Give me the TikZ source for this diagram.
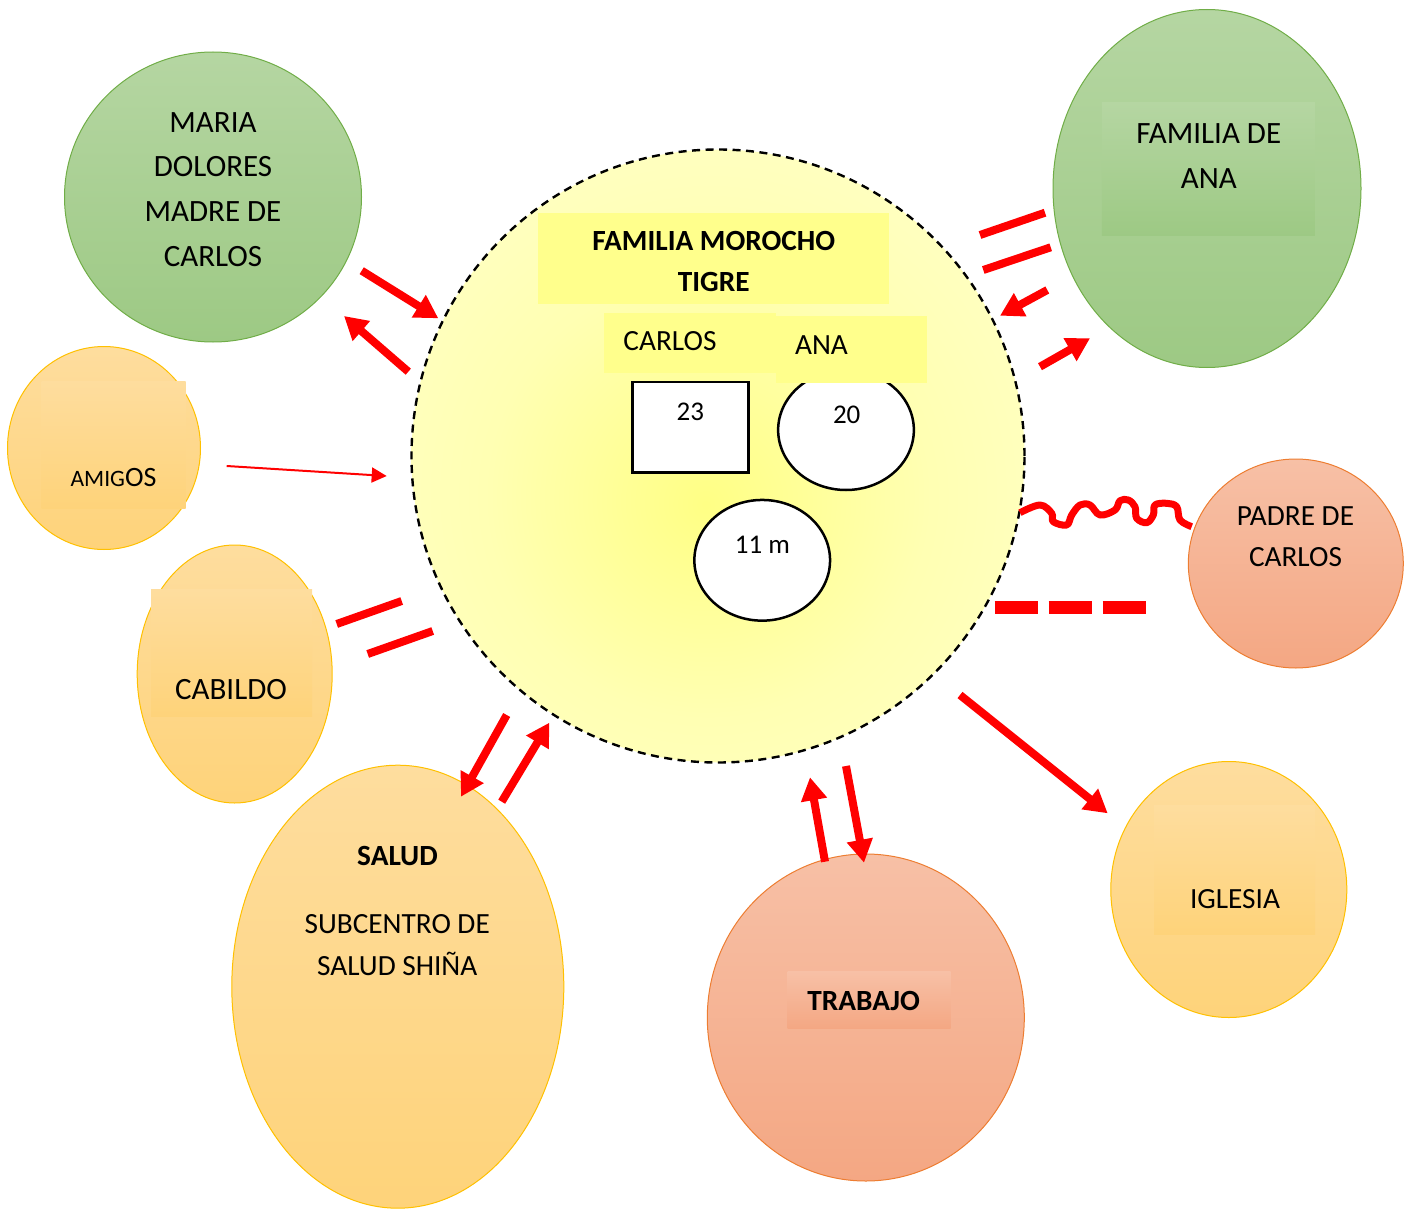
\documentclass[tikz,border=0pt]{standalone}
\usepackage{fontspec}
\setmainfont{Carlito}
\usetikzlibrary{arrows.meta,shapes.geometric}
\definecolor{grTop}{RGB}{181,214,162}
\definecolor{grBot}{RGB}{157,201,132}
\definecolor{grLine}{RGB}{112,173,71}
\definecolor{orTop}{RGB}{254,221,158}
\definecolor{orBot}{RGB}{254,211,122}
\definecolor{orLine}{RGB}{255,192,0}
\definecolor{saTop}{RGB}{247,192,166}
\definecolor{saBot}{RGB}{244,167,131}
\definecolor{saLine}{RGB}{237,125,49}
\definecolor{ylBox}{RGB}{255,255,140}
\definecolor{redA}{RGB}{255,0,0}
\pgfdeclareradialshading{famshade}{\pgfpoint{-1bp}{-4bp}}{rgb(0bp)=(1,1,0.52); rgb(18bp)=(1,1,0.70); rgb(50bp)=(1,1,0.86); rgb(100bp)=(1,1,0.86)}
\newcommand{\fsL}{\fontsize{31}{37}\selectfont}
\newcommand{\fsM}{\fontsize{29.3}{35}\selectfont}
\newcommand{\fsS}{\fontsize{27}{32}\selectfont}
\tikzset{
  ring/.style={ellipse, inner sep=0pt, line width=1pt},
  greenring/.style={ring, draw=grLine, top color=grTop, bottom color=grBot},
  orangering/.style={ring, draw=orLine, top color=orTop, bottom color=orBot},
  salmonring/.style={ring, draw=saLine, top color=saTop, bottom color=saBot},
  ibox/.style={rectangle, inner sep=0pt},
  ybox/.style={rectangle, inner sep=0pt, fill=ylBox},
  wbox/.style={inner sep=0pt, fill=white, draw=black, line width=2.5pt},
  lbl/.style={inner sep=0pt, anchor=base},
  tie/.style={draw=redA, line width=8pt},
  bigarrow/.style={draw=redA, line width=8pt, -{Triangle[length=23pt,width=25pt]}},
  thinarrow/.style={draw=redA, line width=2pt, -{Triangle[length=15pt,width=15pt]}},
}
\begin{document}
\begin{tikzpicture}[x=1pt,y=-1pt]
\path[use as bounding box] (0,0) rectangle (1413,1209);

% central family circle
\node[circle, inner sep=0pt, minimum size=613pt, shading=famshade, draw=black,
      line width=2.4pt, dash pattern=on 8pt off 5.5pt] (fam) at (718,456) {};

% surrounding systems
\node[greenring, minimum width=297pt, minimum height=290pt] (maria) at (213,197) {};
\node[greenring, minimum width=308pt, minimum height=358pt] (fana) at (1207,188.5) {};
\node[ibox, top color=grTop, bottom color=grBot, minimum width=213pt, minimum height=133pt] (fanabox) at (1208.3,169.3) {};

\node[orangering, minimum width=193pt, minimum height=203pt] (amigos) at (104,448) {};
\node[ibox, top color=orTop, bottom color=orBot, minimum width=144pt, minimum height=127pt] (amigosbox) at (113.7,444.5) {};

\node[orangering, minimum width=195pt, minimum height=258pt] (cabildo) at (234.7,674) {};
\node[ibox, top color=orTop, bottom color=orBot, minimum width=161pt, minimum height=127pt] (cabildobox) at (231.5,653.3) {};

\node[orangering, minimum width=332pt, minimum height=443pt] (salud) at (397.8,986.7) {};

\node[salmonring, minimum width=317pt, minimum height=327pt] (trabajo) at (865.8,1017.5) {};
\node[ibox, top color=saTop, bottom color=saBot, minimum width=163pt, minimum height=57pt] (trabajobox) at (869.2,1000.3) {};

\node[orangering, minimum width=236pt, minimum height=256pt] (iglesia) at (1228.8,889.5) {};
\node[ibox, top color=orTop, bottom color=orBot, minimum width=161pt, minimum height=129pt] (iglesiabox) at (1234.5,869.5) {};

\node[salmonring, minimum width=215pt, minimum height=209pt] (padre) at (1295.8,563.5) {};

% inside the family
\node[wbox, ellipse, minimum width=135.7pt, minimum height=120pt] (ana20) at (846,430) {};
\node[wbox, ellipse, minimum width=135.7pt, minimum height=120.7pt] (hijo) at (762.2,560.3) {};
\node[wbox, rectangle, minimum width=115.6pt, minimum height=90.7pt] (carlos23) at (690.5,427.3) {};
\node[ybox, minimum width=351pt, minimum height=91pt] (titlebox) at (713.8,258.8) {};
\node[ybox, minimum width=172pt, minimum height=60pt] (carlosbox) at (690,343.3) {};
\node[ybox, minimum width=151.3pt, minimum height=67.3pt] (anabox) at (851.7,349.7) {};

% texts
\node[lbl, font=\fsL] (m1) at (213,132.7) {MARIA};
\node[lbl, font=\fsL] (m2) at (213,176.7) {DOLORES};
\node[lbl, font=\fsL] (m3) at (213,221.7) {MADRE DE};
\node[lbl, font=\fsL] (m4) at (213,266) {CARLOS};
\node[lbl, font=\fsL] (f1) at (1208.8,144) {FAMILIA DE};
\node[lbl, font=\fsL] (f2) at (1208.8,189) {ANA};
\node[lbl, font=\fsM\bfseries] (t1) at (713.8,250.7) {FAMILIA MOROCHO};
\node[lbl, font=\fsM\bfseries] (t2) at (713.8,291.7) {TIGRE};
\node[lbl, font=\fsM] (tc) at (670,350.7) {CARLOS};
\node[lbl, font=\fsM] (ta) at (821.5,354) {ANA};
\node[lbl, font=\fsS] (n23) at (690.3,420.7) {23};
\node[lbl, font=\fsS] (n20) at (846.7,423.3) {20};
\node[lbl, font=\fsS] (n11) at (762.5,553.3) {11 m};
\node[lbl] (am) at (113.5,486.7) {{\fontsize{23.5}{28}\selectfont AMIG}{\fontsize{28}{33}\selectfont OS}};
\node[lbl, font=\fsM] (p1) at (1295.5,525) {PADRE DE};
\node[lbl, font=\fsM] (p2) at (1295.5,566) {CARLOS};
\node[lbl, font=\fsL] (cb) at (231,699.3) {CABILDO};
\node[lbl, font=\fsM\bfseries] (s1) at (397.5,865.7) {SALUD};
\node[lbl, font=\fsM] (s2) at (397.2,933.3) {SUBCENTRO DE};
\node[lbl, font=\fsM] (s3) at (397.2,975) {SALUD SHIÑA};
\node[lbl, font=\fsM\bfseries] (tr) at (863.7,1010) {TRABAJO};
\node[lbl, font=\fsM] (ig) at (1235,908.3) {IGLESIA};

% connector end points
\coordinate (mA) at (361.7,270.7); \coordinate (mB) at (438.3,318.3);
\coordinate (mC) at (408.3,371.7); \coordinate (mD) at (344,316);
\coordinate (fA) at (980,235);     \coordinate (fB) at (1045,212.7);
\coordinate (fC) at (983.3,270);   \coordinate (fD) at (1050.7,247.3);
\coordinate (fE) at (1047.3,290);  \coordinate (fF) at (1000,315.7);
\coordinate (fG) at (1040,366.7);  \coordinate (fH) at (1090,338.3);
\coordinate (aA) at (226.7,466);   \coordinate (aB) at (386.7,476);
\coordinate (cA) at (336.7,624);   \coordinate (cB) at (401.7,601);
\coordinate (cC) at (367.7,654);   \coordinate (cD) at (432.7,631);
\coordinate (sA) at (506.7,715);   \coordinate (sB) at (461,796.7);
\coordinate (sC) at (501.7,801.7); \coordinate (sD) at (549.3,722.7);
\coordinate (tA) at (825,861.7);   \coordinate (tB) at (810,777.3);
\coordinate (tC) at (846,766);     \coordinate (tD) at (864,862.7);
\coordinate (iA) at (960,695);     \coordinate (iB) at (1107.7,813.3);
\coordinate (wA) at (1020,512.7);  \coordinate (wB) at (1191.7,526.7);
\coordinate (dA) at (994.7,607.7); \coordinate (dB) at (1145.7,607.7);

% connectors
\draw[bigarrow] (mA) -- (mB);
\draw[bigarrow] (mC) -- (mD);
\draw[tie] (fA) -- (fB);
\draw[tie] (fC) -- (fD);
\draw[bigarrow] (fE) -- (fF);
\draw[bigarrow] (fG) -- (fH);
\draw[thinarrow] (aA) -- (aB);
\draw[tie] (cA) -- (cB);
\draw[tie] (cC) -- (cD);
\draw[bigarrow] (sA) -- (sB);
\draw[bigarrow] (sC) -- (sD);
\draw[bigarrow] (tA) -- (tB);
\draw[bigarrow] (tC) -- (tD);
\draw[bigarrow] (iA) -- (iB);
\draw[draw=redA, line width=7pt, line join=round] plot[smooth, tension=0.6] coordinates {
  (wA) (1040,505) (1051.7,513.3) (1053.3,521.7) (1066.7,525) (1071.7,515)
  (1080,505) (1090,505) (1100,515) (1115,510) (1120,500.7) (1128.3,500)
  (1135,506.7) (1136.7,518.3) (1146.7,522.7) (1153.3,515) (1155,505)
  (1166.7,503.3) (1176.7,506.7) (1180,520) (wB)};
\draw[draw=redA, line width=12.7pt, dash pattern=on 43.5pt off 10.5pt] (dA) -- (dB);
\end{tikzpicture}
\end{document}
